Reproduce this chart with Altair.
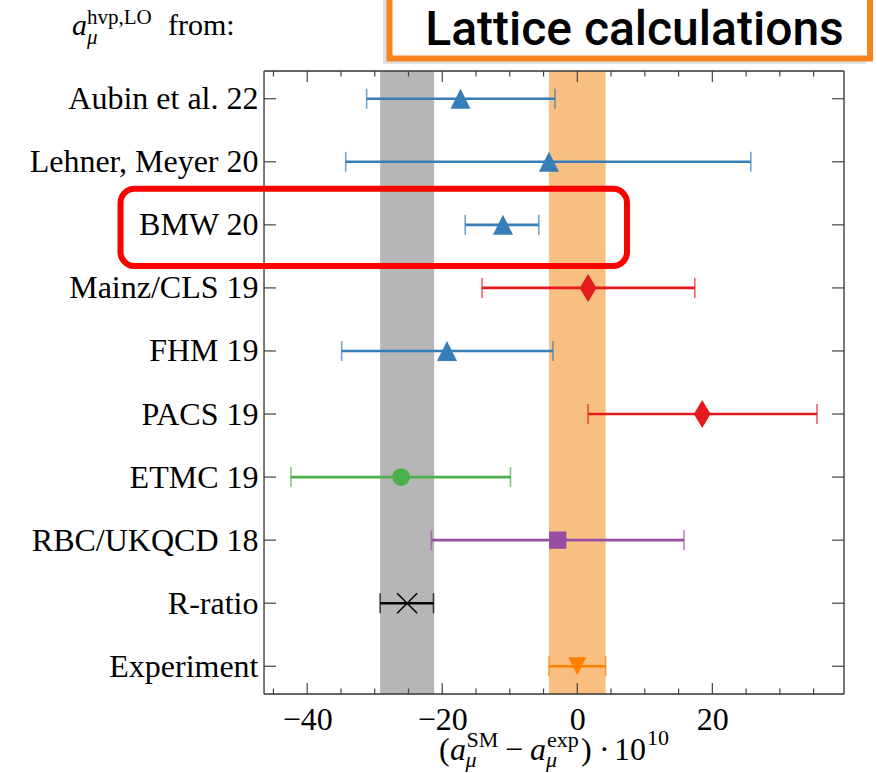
import altair as alt
import pandas as pd

# ---------------- data ----------------
labels = ["Aubin et al. 22", "Lehner, Meyer 20", "BMW 20", "Mainz/CLS 19", "FHM 19",
          "PACS 19", "ETMC 19", "RBC/UKQCD 18", "R-ratio", "Experiment"]
centers = [-17.3, -4.2, -11.0, 1.6, -19.3, 18.5, -26.1, -2.9, -25.2, 0.0]
lows = [-31.2, -34.3, -16.6, -14.1, -34.9, 1.6, -42.4, -21.6, -29.2, -4.2]
highs = [-3.3, 25.7, -5.7, 17.4, -3.6, 35.5, -9.9, 15.8, -21.3, 4.2]
colors = ["#377eb8", "#377eb8", "#377eb8", "#e41a1c", "#377eb8",
          "#e41a1c", "#4daf4a", "#984ea3", "#000000", "#ff7f00"]

TRI_UP = "M0,-1L1,1L-1,1Z"
TRI_DOWN = "M0,1L1,-1L-1,-1Z"
DIAMOND = "M0,-1L0.6,0L0,1L-0.6,0Z"
CROSS = "M-1,-1L1,1M-1,1L1,-1"
shapes = [TRI_UP, TRI_UP, TRI_UP, DIAMOND, TRI_UP, DIAMOND, "circle", "square", CROSS, TRI_DOWN]
marker_sizes = [400, 400, 400, 784, 400, 784, 314, 300, 400, 324]

band_lo = [-29.2, -4.2]
band_hi = [-21.2, 4.2]
band_colors = ["#b6b6b6", "#f8bf80"]

major_ticks = [-40, -20, 0, 20]
minor_ticks = [-45, -35, -30, -25, -15, -10, -5, 5, 10, 15, 25, 30, 35]

# ---------------- layout ----------------
W, H = 580, 623
OX, OY = 264, 71
SERIF = "Liberation Serif"
TICK = "#444444"
FRAME = "#3a3a3a"

df = pd.DataFrame({"label": labels, "c": centers, "lo": lows, "hi": highs,
                   "color": colors, "shape": shapes, "msize": marker_sizes})
bands = pd.DataFrame({"lo": band_lo, "hi": band_hi, "color": band_colors})

xs = alt.Scale(domain=[-46.4, 39.5], nice=False, zero=False)
ys = alt.Scale(type="point", domain=labels, padding=0.44)

xaxis = alt.Axis(values=major_ticks, ticks=False, domain=False, grid=False,
                 labelFont=SERIF, labelFontSize=32, labelColor="black",
                 labelPadding=10, title=None, format="d")
yaxis = alt.Axis(ticks=False, domain=False, grid=False, labelFont=SERIF,
                 labelFontSize=32, labelColor="black", labelPadding=6,
                 title=None, labelLimit=400)

one = alt.InlineData(values=[{"k": 1}])

band_layer = alt.Chart(bands).mark_rect().encode(
    x=alt.X("lo:Q", scale=xs, axis=xaxis, title=None),
    x2="hi:Q",
    y=alt.value(0), y2=alt.value(H),
    color=alt.Color("color:N", scale=None),
)

base = alt.Chart(df)
rules = base.mark_rule(strokeWidth=2.6).encode(
    x=alt.X("lo:Q", scale=xs, title=None), x2="hi:Q",
    y=alt.Y("label:N", scale=ys, axis=yaxis, title=None),
    color=alt.Color("color:N", scale=None),
)
caps_lo = base.mark_tick(thickness=1.6, size=20).encode(
    x=alt.X("lo:Q", scale=xs, title=None),
    y=alt.Y("label:N", scale=ys, title=None),
    color=alt.Color("color:N", scale=None),
)
caps_hi = base.mark_tick(thickness=1.6, size=20).encode(
    x=alt.X("hi:Q", scale=xs, title=None),
    y=alt.Y("label:N", scale=ys, title=None),
    color=alt.Color("color:N", scale=None),
)
points = base.transform_filter(alt.datum.shape != CROSS).mark_point(
    filled=True, opacity=1).encode(
    x=alt.X("c:Q", scale=xs, title=None),
    y=alt.Y("label:N", scale=ys, title=None),
    shape=alt.Shape("shape:N", scale=None),
    size=alt.Size("msize:Q", scale=None),
    color=alt.Color("color:N", scale=None),
)
crosses = base.transform_filter(alt.datum.shape == CROSS).mark_point(
    filled=False, opacity=1, strokeWidth=1.5).encode(
    x=alt.X("c:Q", scale=xs, title=None),
    y=alt.Y("label:N", scale=ys, title=None),
    shape=alt.Shape("shape:N", scale=None),
    size=alt.Size("msize:Q", scale=None),
    color=alt.Color("color:N", scale=None),
)

# inward ticks
def xticks(vals, length, top):
    d = pd.DataFrame({"t": vals})
    y0 = 0 if top else H
    y1 = length if top else H - length
    return alt.Chart(d).mark_rule(color=TICK, strokeWidth=1.2).encode(
        x=alt.X("t:Q", scale=xs, title=None), y=alt.value(y0), y2=alt.value(y1))

def yticks(left):
    x0, x1 = (0, 12) if left else (W - 12, W)
    return base.mark_rule(color=TICK, strokeWidth=1.2).encode(
        y=alt.Y("label:N", scale=ys, title=None), x=alt.value(x0), x2=alt.value(x1))

tick_layers = [xticks(minor_ticks, 5.5, False), xticks(major_ticks, 11, False),
               xticks(minor_ticks, 5.5, True), xticks(major_ticks, 11, True),
               yticks(True), yticks(False)]

def frame_rule(x0, x1, y0, y1):
    return alt.Chart(one).mark_rule(color=FRAME, strokeWidth=1.3).encode(
        x=alt.value(x0), x2=alt.value(x1), y=alt.value(y0), y2=alt.value(y1))

frame = [frame_rule(0, W, 0, 0), frame_rule(0, W, H, H),
         frame_rule(0, 0, 0, H), frame_rule(W, W, 0, H)]

# text helper (absolute page coords -> plot coords)
def txt(s, x, y, size, italic=False, font=SERIF, align="left", weight="normal",
        baseline="alphabetic", color="black"):
    kw = dict(text=s, font=font, fontSize=size, align=align, baseline=baseline,
              fontWeight=weight, color=color)
    if italic:
        kw["fontStyle"] = "italic"
    return alt.Chart(one).mark_text(**kw).encode(
        x=alt.value(x - OX), y=alt.value(y - OY))

# header "a_mu^{hvp,LO} from:"
header = [
    txt("a", 72, 35, 30, italic=True),
    txt("hvp,LO", 87, 24, 21),
    txt("μ", 87, 44, 21, italic=True),
    txt("from:", 168, 35, 30),
]

# x-axis title  (a_mu^SM - a_mu^exp) . 10^10
MB, SUPB, SUBB = 760, 747, 767
xtitle = [
    txt("(", 439, MB, 32),
    txt("a", 450, MB, 32, italic=True),
    txt("SM", 466.5, SUPB, 22),
    txt("μ", 465.5, SUBB, 22, italic=True),
    txt("−", 505, MB, 32),
    txt("a", 530, MB, 32, italic=True),
    txt("exp", 547, SUPB, 22),
    txt("μ", 546, SUBB, 22, italic=True),
    txt(")", 581, MB, 32),
    txt("·", 599, MB, 32),
    txt("10", 614, MB, 32),
    txt("10", 647, 745, 22),
]

# red highlight box around BMW 20
red_box = alt.Chart(one).mark_rect(filled=False, stroke="#ff0000", strokeWidth=6,
                                   cornerRadius=14).encode(
    x=alt.value(120.5 - OX), x2=alt.value(627 - OX),
    y=alt.value(188.7 - OY), y2=alt.value(266 - OY))

# "Lattice calculations" box
shadow = alt.Chart(one).mark_rect(fill="#000000", opacity=0.12).encode(
    x=alt.value(383 - OX), x2=alt.value(866 - OX),
    y=alt.value(-10 - OY), y2=alt.value(64 - OY))
lat_box = alt.Chart(one).mark_rect(fill="white", stroke="#f7841f", strokeWidth=6).encode(
    x=alt.value(389.5 - OX), x2=alt.value(870 - OX),
    y=alt.value(-10 - OY), y2=alt.value(58.5 - OY))
lat_text = txt("Lattice calculations", 634.5, 45, 48, font="Roboto", align="center",
               weight=500)

chart = alt.layer(
    band_layer, rules, caps_lo, caps_hi, points, crosses,
    *tick_layers, *frame, *header, *xtitle, red_box, shadow, lat_box, lat_text,
).properties(
    width=W, height=H,
    autosize=alt.AutoSizeParams(type="none"),
    padding={"left": OX, "top": OY, "right": 877 - OX - W, "bottom": 773 - OY - H},
).configure_view(stroke=None).configure(background="white")

chart.save("out.html", embed_options={"renderer": "svg", "actions": False})
